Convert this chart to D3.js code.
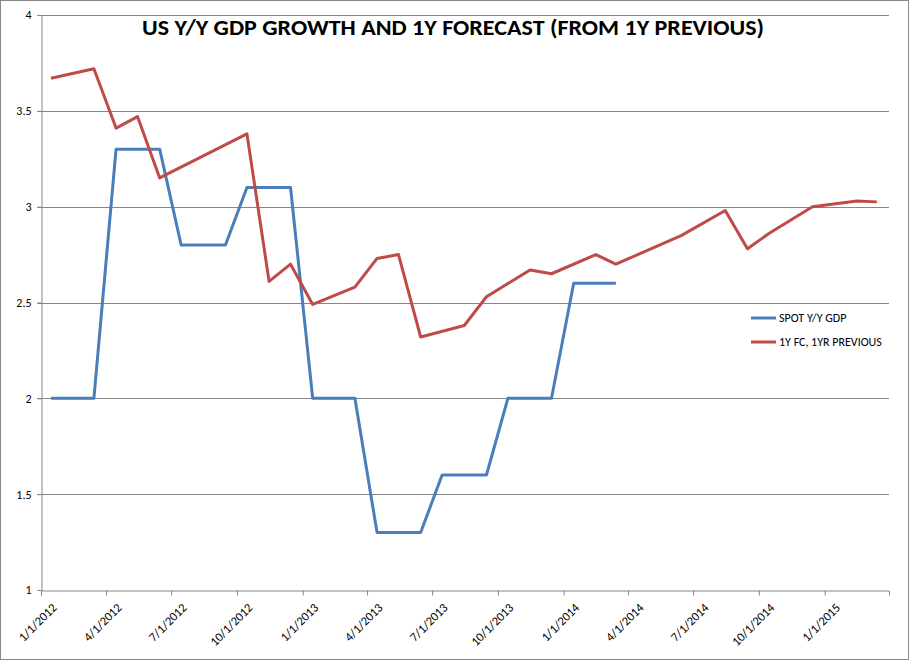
<!DOCTYPE html>
<html>
<head>
<meta charset="utf-8">
<script src="https://cdn.jsdelivr.net/npm/d3@7"></script>
<style>
  body { margin: 0; background: #fff; }
  text { font-family: Calibri, "Liberation Sans Narrow", "Liberation Sans", Arial, sans-serif; }
</style>
</head>
<body>
<div id="chart"></div>
<script>
// data
const spotDates = ['2012-01-15', '2012-03-15', '2012-04-15', '2012-06-15', '2012-07-15', '2012-09-15',
  '2012-10-15', '2012-12-15', '2013-01-15', '2013-03-15', '2013-04-15', '2013-06-15', '2013-07-15',
  '2013-09-15', '2013-10-15', '2013-12-15', '2014-01-15', '2014-03-15'];
const spotValues = [2.0, 2.0, 3.3, 3.3, 2.8, 2.8, 3.1, 3.1, 2.0, 2.0, 1.3, 1.3, 1.6, 1.6, 2.0, 2.0, 2.6, 2.6];

const fcDates = ['2012-01-15', '2012-03-15', '2012-04-15', '2012-05-15', '2012-06-15', '2012-10-15',
  '2012-11-15', '2012-12-15', '2013-01-15', '2013-03-15', '2013-04-15', '2013-05-15', '2013-06-15',
  '2013-08-15', '2013-09-15', '2013-11-15', '2013-12-15', '2014-02-15', '2014-03-15', '2014-06-15',
  '2014-08-15', '2014-09-15', '2014-10-15', '2014-12-15', '2015-02-15', '2015-03-15'];
const fcValues = [3.67, 3.72, 3.41, 3.47, 3.15, 3.38, 2.61, 2.70, 2.49, 2.58, 2.73, 2.75, 2.32,
  2.38, 2.53, 2.67, 2.65, 2.75, 2.70, 2.85, 2.98, 2.78, 2.86, 3.00, 3.03, 3.025];

const tickDates = ['2012-01-01', '2012-04-01', '2012-07-01', '2012-10-01', '2013-01-01', '2013-04-01',
  '2013-07-01', '2013-10-01', '2014-01-01', '2014-04-01', '2014-07-01', '2014-10-01', '2015-01-01'];
const yTicks = [1, 1.5, 2, 2.5, 3, 3.5, 4];

const seriesNames = ['SPOT Y/Y GDP', '1Y FC, 1YR PREVIOUS'];
const colors = ['#4a7ebb', '#be4b48'];

const W = 915, H = 665;
const margin = { top: 15, left: 41, right: 26, bottom: 75 };
const parse = d3.utcParse('%Y-%m-%d');
const fmt = d3.utcFormat('%-m/%-d/%Y');

const svg = d3.select('#chart').append('svg').attr('width', W).attr('height', H);

// outer chart border
svg.append('rect')
  .attr('x', 0.5).attr('y', 0.5).attr('width', 908).attr('height', 659)
  .attr('fill', 'none').attr('stroke', '#888');

const x = d3.scaleUtc()
  .domain([parse('2012-01-01'), parse('2015-04-01')])
  .range([margin.left, 889]);
const y = d3.scaleLinear().domain([1, 4]).range([590, margin.top]);

// gridlines
svg.append('g')
  .selectAll('line')
  .data(yTicks.slice(1))
  .enter()
  .append('line')
  .attr('x1', margin.left - 4).attr('x2', 889)
  .attr('y1', d => Math.round(y(d)) + 0.5).attr('y2', d => Math.round(y(d)) + 0.5)
  .attr('stroke', '#868686');

// y axis
const yAxis = svg.append('g')
  .attr('transform', `translate(${margin.left + 0.5},0)`)
  .call(d3.axisLeft(y).tickValues(yTicks).tickSize(4).tickPadding(6).tickFormat(d3.format('')));
yAxis.select('.domain').attr('stroke', '#868686');
yAxis.selectAll('line').attr('stroke', '#868686');
yAxis.selectAll('text').attr('font-size', 12).attr('fill', '#000');

// x axis
const xAxis = svg.append('g')
  .attr('transform', `translate(0,${Math.round(y(1)) + 0.5})`)
  .call(d3.axisBottom(x).tickValues(tickDates.map(parse)).tickSize(5).tickFormat(fmt));
xAxis.select('.domain').attr('stroke', '#868686');
xAxis.selectAll('line').attr('stroke', '#868686');
xAxis.selectAll('text')
  .attr('font-size', 12.5)
  .attr('fill', '#000')
  .attr('text-anchor', 'end')
  .attr('transform', 'translate(4,6) rotate(-45)');

// lines
const line = d3.line().x(d => x(d[0])).y(d => y(d[1]));
const series = [
  spotDates.map((d, i) => [parse(d), spotValues[i]]),
  fcDates.map((d, i) => [parse(d), fcValues[i]])
];
series.forEach((s, i) => {
  svg.append('path')
    .datum(s)
    .attr('d', line)
    .attr('fill', 'none')
    .attr('stroke', colors[i])
    .attr('stroke-width', 3)
    .attr('stroke-linejoin', 'round');
});

// legend
seriesNames.forEach((name, i) => {
  const ly = 318 + i * 24;
  svg.append('line')
    .attr('x1', 751).attr('x2', 776).attr('y1', ly).attr('y2', ly)
    .attr('stroke', colors[i]).attr('stroke-width', 3);
  svg.append('text')
    .attr('x', 779).attr('y', ly + 4)
    .attr('font-size', 12)
    .text(name);
});

// title
svg.append('text')
  .attr('x', 453).attr('y', 35)
  .attr('text-anchor', 'middle')
  .attr('font-size', 22)
  .attr('font-weight', 'bold')
  .attr('textLength', 622)
  .attr('lengthAdjust', 'spacingAndGlyphs')
  .text('US Y/Y  GDP GROWTH AND 1Y FORECAST (FROM 1Y PREVIOUS)');
</script>
</body>
</html>
